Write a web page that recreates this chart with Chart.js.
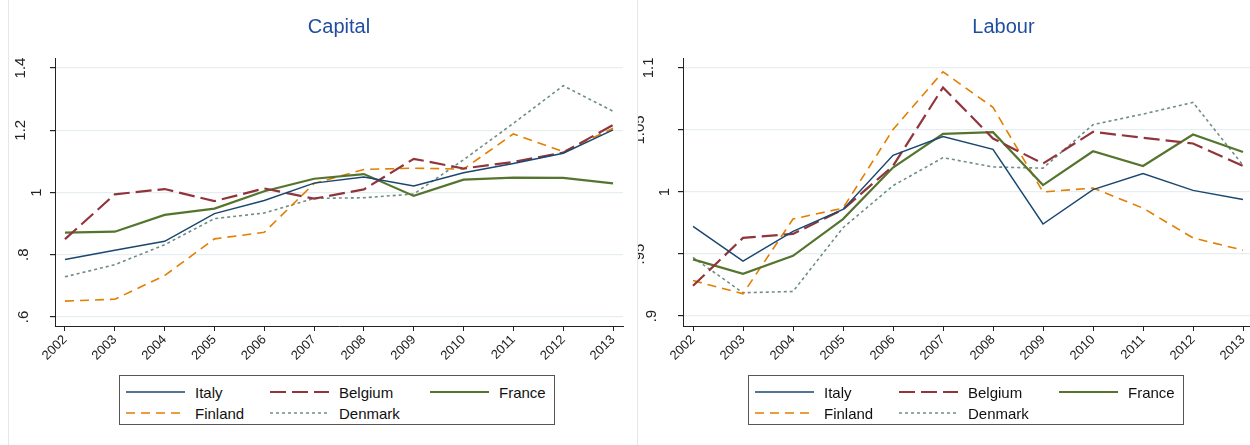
<!DOCTYPE html>
<html>
<head>
<meta charset="utf-8">
<script src="https://cdn.jsdelivr.net/npm/chart.js@4.4.1/dist/chart.umd.min.js"></script>
<style>
  html, body { margin: 0; padding: 0; background: #fff; }
  #page { position: relative; width: 1250px; height: 445px; overflow: hidden; background: #fff; font-family: Arial, "Liberation Sans", sans-serif; }
  .panel { position: absolute; top: 0; height: 445px; overflow: hidden; }
  #capitalPanel { left: 0; width: 637px; }
  #labourPanel { left: 637px; width: 613px; }
  .rule { position: absolute; top: 0; width: 1px; height: 445px; background: #e1e9ed; }
  .legend { position: absolute; top: 375px; width: 436px; height: 50px; border: 1px solid #555; box-sizing: border-box; background: #fff; }
  .item { position: absolute; height: 20px; display: flex; align-items: center; font-size: 15px; color: #111; white-space: nowrap; }
  .item svg { margin-right: 10px; flex: none; }
</style>
</head>
<body>
<div id="page">
  <div class="panel" id="capitalPanel"><canvas id="capital" width="637" height="445"></canvas></div>
  <div class="panel" id="labourPanel"><canvas id="labour" width="700" height="445"></canvas></div>
  <div class="rule" style="left:8px"></div>
  <div class="rule" style="left:637px"></div>
  <div class="legend" id="capitalLegend" style="left:119px"></div>
  <div class="legend" id="labourLegend" style="left:748px"></div>
</div>
<script>
// Years on the horizontal axis
const years = [2002, 2003, 2004, 2005, 2006, 2007, 2008, 2009, 2010, 2011, 2012, 2013];

// Series names
const countries = ['Italy', 'Belgium', 'France', 'Finland', 'Denmark'];

// Capital index by country
const capitalItaly   = [0.785, 0.814, 0.843, 0.932, 0.974, 1.030, 1.050, 1.021, 1.063, 1.093, 1.126, 1.201];
const capitalBelgium = [0.850, 0.994, 1.011, 0.972, 1.013, 0.980, 1.010, 1.108, 1.077, 1.098, 1.128, 1.217];
const capitalFrance  = [0.871, 0.874, 0.928, 0.948, 1.004, 1.044, 1.059, 0.989, 1.041, 1.048, 1.047, 1.029];
const capitalFinland = [0.651, 0.657, 0.733, 0.851, 0.872, 1.029, 1.074, 1.078, 1.075, 1.188, 1.131, 1.206];
const capitalDenmark = [0.729, 0.768, 0.832, 0.916, 0.934, 0.981, 0.983, 0.995, 1.105, 1.222, 1.343, 1.261];

// Labour index by country
const labourItaly   = [0.9723, 0.9443, 0.9683, 0.9859, 1.0296, 1.0447, 1.0344, 0.9742, 1.0019, 1.0149, 1.0013, 0.9939];
const labourBelgium = [0.9244, 0.9630, 0.9662, 0.9859, 1.0210, 1.0842, 1.0431, 1.0229, 1.0485, 1.0437, 1.0391, 1.0210];
const labourFrance  = [0.9457, 0.9340, 0.9486, 0.9782, 1.0197, 1.0469, 1.0482, 1.0056, 1.0328, 1.0210, 1.0463, 1.0322];
const labourFinland = [0.9286, 0.9180, 0.9782, 0.9870, 1.0503, 1.0969, 1.0682, 1.0000, 1.0032, 0.9870, 0.9630, 0.9531];
const labourDenmark = [0.9473, 0.9188, 0.9198, 0.9712, 1.0051, 1.0277, 1.0202, 1.0192, 1.0543, 1.0628, 1.0722, 1.0215];

// Vertical axis ticks and their labels
const capitalTicks = [0.6, 0.8, 1, 1.2, 1.4];
const capitalTickLabels = ['.6', '.8', '1', '1.2', '1.4'];
const labourTicks = [0.9, 0.95, 1, 1.05, 1.1];
const labourTickLabels = ['.9', '.95', '1', '1.05', '1.1'];

// Line appearance per country
const styles = {
  Italy:   { color: '#1a476f', width: 1.5, dash: [] },
  Belgium: { color: '#90353b', width: 2.2, dash: [16, 6] },
  France:  { color: '#55752f', width: 2.2, dash: [] },
  Finland: { color: '#e37e00', width: 1.6, dash: [9, 6] },
  Denmark: { color: '#6e8e84', width: 1.6, dash: [3, 3] }
};

function makeDatasets(seriesList) {
  return countries.map((name, i) => ({
    label: name,
    data: years.map((yr, j) => ({ x: yr, y: seriesList[i][j] })),
    borderColor: styles[name].color,
    backgroundColor: styles[name].color,
    borderWidth: styles[name].width,
    borderDash: styles[name].dash,
    pointRadius: 0,
    tension: 0,
    fill: false
  }));
}

// Panel title drawn over the plot area
const panelTitle = {
  id: 'panelTitle',
  afterDraw(chart, args, opts) {
    const ctx = chart.ctx, a = chart.chartArea;
    ctx.save();
    ctx.font = '20px Arial, "Liberation Sans", sans-serif';
    ctx.fillStyle = '#1f4e9f';
    ctx.textAlign = 'center';
    ctx.textBaseline = 'middle';
    ctx.fillText(opts.text, (a.left + a.right) / 2, 27);
    ctx.restore();
  }
};

// Vertical tick labels, rotated to read upward
const rotatedYLabels = {
  id: 'rotatedYLabels',
  afterDraw(chart, args, opts) {
    const ctx = chart.ctx, y = chart.scales.y, a = chart.chartArea;
    ctx.save();
    ctx.font = '15px Arial, "Liberation Sans", sans-serif';
    ctx.fillStyle = '#222';
    ctx.textAlign = 'center';
    ctx.textBaseline = 'middle';
    opts.values.forEach((v, i) => {
      const txt = opts.labels[i];
      let off = txt.length === 1 ? 18 : txt.length === 2 ? 31 : 34;
      if (opts.halfSteps && opts.halfSteps.includes(v)) off = 43;
      ctx.save();
      ctx.translate(a.left - off, y.getPixelForValue(v));
      ctx.rotate(-Math.PI / 2);
      ctx.fillText(txt, 0, 0);
      ctx.restore();
    });
    ctx.restore();
  }
};

function makeChart(canvasId, seriesList, cfg) {
  return new Chart(document.getElementById(canvasId), {
    type: 'line',
    data: { datasets: makeDatasets(seriesList) },
    plugins: [panelTitle, rotatedYLabels],
    options: {
      responsive: false,
      animation: false,
      events: [],
      layout: { padding: { top: 58, right: cfg.padRight, left: 0, bottom: 0 } },
      plugins: {
        legend: { display: false },
        tooltip: { enabled: false },
        panelTitle: { text: cfg.title },
        rotatedYLabels: { values: cfg.ticks, labels: cfg.tickLabels, halfSteps: cfg.halfSteps }
      },
      scales: {
        x: {
          type: 'linear',
          min: 2001.8,
          max: cfg.xMax,
          afterBuildTicks(s) { s.ticks = years.map(v => ({ value: v })); },
          afterFit(s) { s.height = 119; },
          ticks: {
            autoSkip: false,
            minRotation: 45,
            maxRotation: 45,
            padding: 1,
            color: '#222',
            font: { family: 'Arial, "Liberation Sans", sans-serif', size: 13 },
            callback: v => String(v)
          },
          grid: { drawOnChartArea: false, color: '#222', tickLength: 5 },
          border: { color: '#222', width: 1 }
        },
        y: {
          type: 'linear',
          min: cfg.yMin,
          max: cfg.yMax,
          afterBuildTicks(s) { s.ticks = cfg.ticks.map(v => ({ value: v })); },
          afterFit(s) { s.width = cfg.yWidth; },
          ticks: { display: false },
          grid: { color: '#e6eef1', lineWidth: 1.2, tickLength: 5, tickColor: '#222' },
          border: { color: '#222', width: 1 }
        }
      }
    }
  });
}

makeChart('capital', [capitalItaly, capitalBelgium, capitalFrance, capitalFinland, capitalDenmark], {
  title: 'Capital', xMax: 2013.2, yMin: 0.571, yMax: 1.432, yWidth: 55, padRight: 14,
  ticks: capitalTicks, tickLabels: capitalTickLabels
});

makeChart('labour', [labourItaly, labourBelgium, labourFrance, labourFinland, labourDenmark], {
  title: 'Labour', xMax: 2014.62, yMin: 0.892, yMax: 1.108, yWidth: 46, padRight: 13,
  ticks: labourTicks, tickLabels: labourTickLabels, halfSteps: [0.95, 1.05]
});

// Legend boxes built from the same series styles
function buildLegend(id) {
  const box = document.getElementById(id);
  const cols = [6, 150, 310];
  const rows = [6, 27];
  countries.forEach((name, i) => {
    const st = styles[name];
    const item = document.createElement('div');
    item.className = 'item';
    item.style.left = cols[i % 3] + 'px';
    item.style.top = rows[Math.floor(i / 3)] + 'px';
    const dash = st.dash.length ? st.dash.join(' ') : 'none';
    item.innerHTML = '<svg width="59" height="10"><line x1="0" y1="5" x2="59" y2="5" stroke="' + st.color +
      '" stroke-width="' + st.width + '" stroke-dasharray="' + dash + '"/></svg><span>' + name + '</span>';
    box.appendChild(item);
  });
}
buildLegend('capitalLegend');
buildLegend('labourLegend');
</script>
</body>
</html>
